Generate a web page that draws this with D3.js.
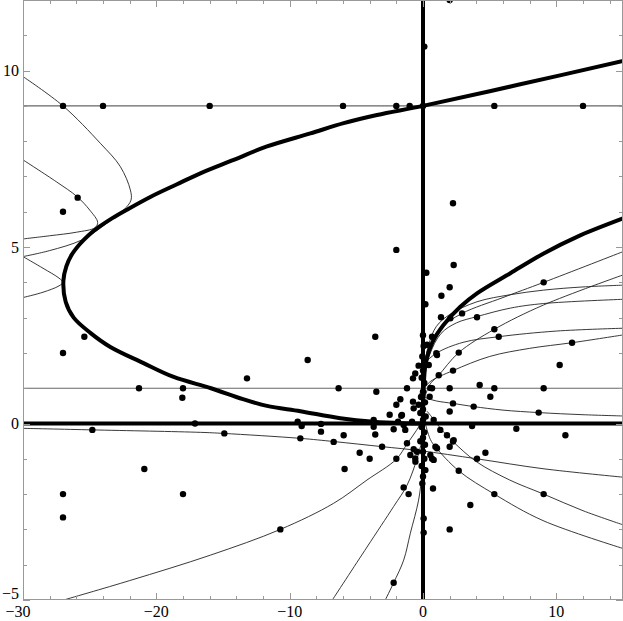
<!DOCTYPE html>
<html><head><meta charset="utf-8">
<script src="https://cdn.jsdelivr.net/npm/d3@7"></script>
<style>body{margin:0;background:#fff}text{font-family:"Liberation Serif","Times New Roman",serif;font-size:16px;fill:#000}</style>
</head><body>
<svg id="c" width="623" height="621"></svg>
<script>
// ---- data ----
const xDomain = [-30, 15];
const yDomain = [-5, 12];
const xTickLabels = [-30, -20, -10, 0, 10];
const yTickLabels = [-5, 0, 5, 10];
const xMinorTicks = d3.range(-30, 15.01, 2);
const yMinorTicks = d3.range(-5, 12.01, 1);
const horizontalLines = [1, 9];
const axisLinesX = [0];
const axisLinesY = [0];

const thickLeft = [[15,10.27],[7.05,9.59],[0,9.0],[-3.45,8.74],[-5.95,8.51],[-8.45,8.22],[-11.7,7.85],[-14.2,7.47],[-16.7,7.09],[-18.45,6.78],[-20.45,6.42],[-22.2,6.06],[-23.3,5.82],[-24.3,5.57],[-25.1,5.33],[-25.75,5.08],[-26.35,4.78],[-26.75,4.45],[-26.97,4.05],[-26.8,3.45],[-26.2,3.0],[-24.95,2.57],[-23.45,2.17],[-21.0,1.72],[-18.7,1.32],[-15.9,1.0],[-13.5,0.69],[-11.7,0.5],[-9.2,0.35],[-6.2,0.15],[-3.7,0.05],[-1.5,0.01],[0,0]];
const thickRight = [[0,0],[0.02,0.6],[0.07,1.2],[0.22,1.75],[0.7,2.3],[1.55,2.8],[2.8,3.31],[4.05,3.69],[6.55,4.26],[9.05,4.82],[11.55,5.29],[15,5.81]];

const curveA = [[0.2,1.7],[0.6,2.25],[1.3,2.7],[2.93,3.12],[6,3.57],[9.05,4.0],[15,4.87]];
const curveB = [[0.1,0.7],[0.5,1.1],[1.18,1.37],[2.68,2.01],[5.35,2.67],[9.05,3.36],[15,4.21]];
const curveC = [[0.1,1.6],[0.4,2.2],[1.0,2.75],[2.05,3.1],[4.05,3.45],[6.55,3.65],[9.05,3.78],[12,3.87],[15,3.92]];
const curveD = [[0.1,1.3],[0.5,1.95],[1.35,2.55],[2.5,2.85],[4.05,3.03],[6.55,3.27],[9.05,3.4],[15,3.52]];
const curveE = [[0.05,1.4],[0.18,1.7],[1.0,1.99],[3,2.3],[5.68,2.46],[10,2.62],[15,2.7]];
const curveF = [[0.1,1.0],[0.55,1.19],[2.25,1.5],[5,1.9],[8,2.13],[11.18,2.29],[15,2.51]];
const curveG = [[-0.3,0.85],[0.3,0.72],[1.0,0.64],[2.25,0.57],[3.8,0.48],[6,0.38],[8.675,0.31],[12,0.25],[15,0.214]];
const curveH = [[-30,-0.136],[-24.83,-0.18],[-16.7,-0.25],[-14.95,-0.28],[-9.2,-0.42],[-6.7,-0.51],[-3.07,-0.655],[-0.2,-0.77],[4.05,-1.0],[9,-1.28],[15,-1.52]];
const curveI = [[0.3,0.35],[0.8,0.12],[1.3,-0.13],[2.25,-0.51],[4,-1.08],[6.5,-1.6],[9.05,-2.0],[12,-2.47],[15,-2.87]];
const curveJ = [[0.1,0.1],[0.55,-0.45],[0.93,-0.66],[2.68,-1.34],[5.35,-2.0],[9,-2.75],[15,-3.54]];
const curveK = [[-26.95,-5.0],[-22,-4.45],[-15.95,-3.73],[-10.7,-3.0],[-6.7,-2.26],[-4.2,-1.6],[-2.0,-1.01],[-1.2,-0.58],[-0.5,-0.2],[-0.1,0.05]];
const curveL = [[-6.8,-5.0],[-4.2,-3.5],[-2.2,-2.35],[-1.2,-1.75],[-0.45,-1.0],[-0.1,-0.5],[0,-0.2]];
const curveM = [[-2.83,-5.0],[-2.2,-4.51],[-1.45,-3.87],[-0.95,-3.11],[-0.33,-2.17],[-0.075,-1.41],[0,-1.0]];
const curveP = [[-30,9.83],[-27,9.0],[-24.2,7.94],[-22.7,7.28],[-21.95,6.62],[-21.9,6.33],[-22.45,6.05],[-23.8,5.65],[-25.6,5.2],[-28,4.9],[-30,4.73]];
const curveQ = [[-30,7.47],[-27.5,6.85],[-25.95,6.43],[-25.0,6.05],[-24.4,5.7],[-24.6,5.55],[-26,5.42],[-28,5.32],[-30,5.23]];
const curveR = [[-30,4.73],[-28.5,4.4],[-27.3,4.12],[-27.0,4.0],[-27.3,3.9],[-28.5,3.72],[-30,3.57]];

const dots = [
[2.0,12.0],[0.1,10.68],
[-27,9],[-24,9],[-16,9],[-6,9],[-2,9],[-1,9],[0,9],[5.35,9],[12,9],
[2.25,6.24],[-25.9,6.4],[-27,6.0],[-25.4,2.46],[-27,2.0],[-21.3,1.0],[-18,1.0],[-18.05,0.73],
[-2.0,4.92],[-3.58,2.46],[-8.65,1.8],[-13.2,1.28],[-6.33,1.0],[-3.5,0.9],[-1.2,1.0],
[-0.33,1.64],[-0.58,1.42],[-0.75,1.28],[-1.7,0.69],[-2.0,0.53],[-0.75,0.62],[-0.7,0.43],[-0.33,0.53],
[-2.5,0.25],[-1.63,0.22],[-3.7,0.1],[-0.82,0.05],[-3.7,-0.09],
[-9.4,0.05],[-9.1,-0.07],[-7.65,-0.01],[-7.65,-0.23],[-5.95,-0.33],[-3.58,-0.31],[-2.2,-0.16],[-1.87,0.05],[-1.45,-0.04],[-1.33,-0.18],[-1.2,-0.56],[-14.9,-0.28],[-9.2,-0.42],[-6.7,-0.52],[-3.07,-0.66],[-4.75,-0.83],[-4.0,-1.0],[-5.88,-1.29],[-2.0,-1.0],[-1.45,-1.81],[-1.08,-2.0],[-10.7,-3.0],[-2.2,-4.51],
[-24.8,-0.18],[-27,-2.0],[-27,-2.66],[-20.9,-1.29],[-18,-2.0],[-17.1,0.0],
[2.25,0.57],[3.8,0.48],[8.675,0.31],[2.0,0.34],[3.68,-0.07],[7.0,-0.15],[10.68,-0.33],[1.8,-0.33],[2.25,-0.51],[2.0,-0.66],[4.68,-0.83],[4.05,-1.0],[0.93,-0.66],[0.68,-1.0],[2.68,-1.34],[0.75,-1.84],[3.55,-2.31],[5.35,-2.0],[9.05,-2.0],[2.0,-3.0],[0.05,-2.69],[0.05,-3.09],[0.18,-1.32],[-0.45,-0.8],[-0.57,-1.08],
[2.3,4.49],[0.25,4.27],[2.0,3.86],[1.38,3.62],[0.18,3.38],[9.05,4.0],[2.93,3.12],[4.05,3.01],[1.35,3.01],[2.05,2.98],[5.35,2.67],[5.68,2.46],[1.0,1.99],[2.68,2.01],[11.18,2.29],[10.25,1.66],[2.25,1.5],[1.18,1.37],[4.25,1.09],[2.0,1.0],[5.35,1.0],[9.05,1.0],[5.05,0.76],[0.68,1.0],
[0.5,0.76],[0.8,0.1],[1.3,-0.18],[2.3,-0.47],[-0.7,-0.73],[-0.95,-0.89],[0.55,-0.89],[1.05,-0.7],[-0.58,-0.99],[0.8,-1.03],[-1.58,0.24],
[0.3,2.23],[0.68,2.46],[1.05,1.94],[0.43,1.66],[0.55,1.01],
[0,2.5],[0.05,2.2],[-0.05,1.9],[0.1,1.75],[0,1.5],[-0.1,1.3],[0.1,1.15],[0,0.9],[-0.15,0.75],[0.15,0.6],[0,0.4],[-0.2,0.3],[0.2,0.2],[0,0.1],[-0.1,-0.1],[0.1,-0.25],[0,-0.4],[-0.2,-0.5],[0.15,-0.6],[0,-0.8],[0.1,-1.0],[-0.1,-1.2],[0,-1.5],[-0.05,-1.7]
];

// ---- drawing ----
const L = 23, T = 0, W = 600, H = 600;
const svg = d3.select('#c');
const x = d3.scaleLinear().domain(xDomain).range([L, L + W]);
const y = d3.scaleLinear().domain(yDomain).range([T + H, T]);

svg.append('defs').append('clipPath').attr('id','clip')
  .append('rect').attr('x', L).attr('y', T).attr('width', W).attr('height', H);
const g = svg.append('g').attr('clip-path','url(#clip)');

const line = d3.line().x(d => x(d[0])).y(d => y(d[1])).curve(d3.curveCatmullRom.alpha(0.5));

g.selectAll('.hl').data(horizontalLines).join('line')
  .attr('x1', L).attr('x2', L + W).attr('y1', d => y(d)).attr('y2', d => y(d))
  .attr('stroke', '#666').attr('stroke-width', 1.1);

const thin = [curveA, curveB, curveC, curveD, curveE, curveF, curveG, curveH, curveI, curveJ, curveK, curveL, curveM, curveP, curveQ, curveR];
g.selectAll('.thin').data(thin).join('path')
  .attr('d', line).attr('fill', 'none').attr('stroke', '#222').attr('stroke-width', 0.9);

g.selectAll('.ax').data(axisLinesX).join('line')
  .attr('x1', d => x(d)).attr('x2', d => x(d)).attr('y1', T).attr('y2', T + H)
  .attr('stroke', '#000').attr('stroke-width', 4);
g.selectAll('.ay').data(axisLinesY).join('line')
  .attr('x1', L).attr('x2', L + W).attr('y1', d => y(d)).attr('y2', d => y(d))
  .attr('stroke', '#000').attr('stroke-width', 4);

g.selectAll('.thick').data([thickLeft, thickRight]).join('path')
  .attr('d', line).attr('fill', 'none').attr('stroke', '#000').attr('stroke-width', 4)
  .attr('stroke-linejoin','round').attr('stroke-linecap','round');

g.selectAll('circle').data(dots).join('circle')
  .attr('cx', d => x(d[0])).attr('cy', d => y(d[1])).attr('r', 3.2).attr('fill', '#000');

const fr = svg.append('g');
fr.append('rect').attr('x', L + 0.5).attr('y', T + 0.5).attr('width', W - 1).attr('height', H - 1)
  .attr('fill', 'none').attr('stroke', '#999').attr('stroke-width', 1);

function ticks(vals, len) {
  vals.forEach(v => {
    const px = Math.round(x(v)) + 0.5;
    fr.append('line').attr('x1', px).attr('x2', px).attr('y1', T + H).attr('y2', T + H - len).attr('stroke', '#999');
    fr.append('line').attr('x1', px).attr('x2', px).attr('y1', T).attr('y2', T + len).attr('stroke', '#999');
  });
}
function yticks(vals, len) {
  vals.forEach(v => {
    const py = Math.round(y(v)) + 0.5;
    fr.append('line').attr('x1', L).attr('x2', L + len).attr('y1', py).attr('y2', py).attr('stroke', '#999');
    fr.append('line').attr('x1', L + W).attr('x2', L + W - len).attr('y1', py).attr('y2', py).attr('stroke', '#999');
  });
}
ticks(xMinorTicks, 4); ticks(xTickLabels, 7);
yticks(yMinorTicks, 4); yticks(yTickLabels, 7);

const fmt = v => (v < 0 ? '\u2212' + Math.abs(v) : String(v));
svg.selectAll('.xl').data(xTickLabels).join('text')
  .attr('x', d => x(d) - (d === xDomain[0] ? 5 : 0)).attr('y', 617).attr('text-anchor', 'middle').text(fmt);
svg.selectAll('.yl').data(yTickLabels).join('text')
  .attr('x', 19).attr('y', d => d === yDomain[0] ? 599 : y(d) + 5.5).attr('text-anchor', 'end').text(fmt);
</script>
</body></html>
